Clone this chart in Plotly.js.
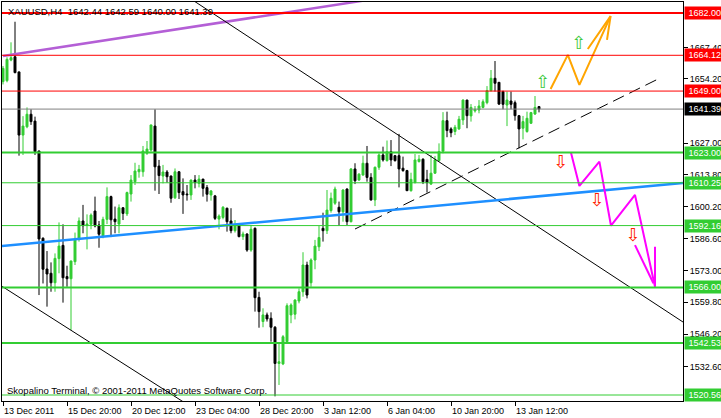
<!DOCTYPE html>
<html><head><meta charset="utf-8">
<script src="https://cdn.plot.ly/plotly-3.0.1.min.js"></script>
<style>html,body{margin:0;padding:0;background:#fff;}#chart{width:721px;height:418px;}</style>
</head><body><div id="chart"></div>
<script>
// XAUUSD H4 bars (bar 0 = 13 Dec 2011 00:00)
const barOpen = [1653.0,1653.4,1662.1,1663.5,1657.1,1630.4,1633.9,1639.2,1636.3,1623.7,
1586.8,1573.8,1572.0,1568.0,1578.2,1583.8,1570.6,1569.7,1576.9,1586.5,
1594.1,1592.3,1592.7,1598.3,1592.4,1587.8,1594.8,1604.4,1594.9,1592.8,
1599.7,1597.1,1605.5,1610.7,1614.9,1614.9,1622.7,1624.1,1634.2,1617.3,
1613.1,1614.8,1613.1,1603.9,1614.9,1606.5,1605.5,1605.1,1611.4,1610.0,
1611.8,1608.2,1605.1,1604.7,1594.9,1595.6,1599.5,1594.1,1590.0,1592.4,
1587.5,1588.6,1581.8,1591.0,1561.8,1551.6,1554.4,1553.0,1549.2,1533.9,
1533.7,1543.1,1554.4,1554.7,1560.3,1564.2,1575.5,1568.0,1577.6,1583.2,
1591.0,1590.0,1598.5,1601.6,1599.9,1598.0,1607.6,1593.8,1616.1,1611.4,
1613.5,1618.5,1612.5,1603.0,1616.8,1622.0,1619.6,1623.4,1621.7,1621.7,
1616.4,1615.4,1606.9,1610.3,1619.2,1620.2,1611.7,1609.7,1614.3,1619.6,
1623.6,1636.5,1633.0,1631.9,1633.0,1636.8,1645.2,1638.5,1640.6,1641.0,
1642.1,1644.1,1649.2,1654.4,1652.7,1648.8,1643.1,1644.8,1644.1,1638.6,
1633.3,1631.9,1635.4,1639.3,1642.44];
const barHigh = [1659.6,1663.3,1669.6,1678.3,1657.2,1638.4,1642.1,1641.3,1638.2,1623.7,
1587.2,1581.4,1576.6,1580.4,1593.5,1592.7,1575.2,1577.3,1589.2,1595.6,
1600.9,1596.9,1597.3,1604.4,1594.1,1595.9,1608.3,1604.8,1600.2,1601.1,
1599.9,1606.5,1613.5,1618.7,1617.8,1625.8,1627.9,1634.7,1641.3,1619.9,
1617.8,1615.6,1613.3,1616.3,1615.2,1612.1,1609.3,1611.6,1613.5,1613.5,
1611.9,1609.3,1607.2,1605.1,1596.9,1600.4,1599.7,1599.5,1594.5,1592.7,
1589.6,1588.9,1592.4,1591.4,1564.2,1557.2,1555.4,1555.5,1549.7,1542.4,
1545.9,1559.3,1559.3,1561.0,1565.6,1580.9,1576.9,1578.3,1586.1,1592.0,
1597.6,1607.2,1606.1,1608.6,1602.3,1607.5,1607.9,1616.4,1618.5,1614.3,
1621.7,1625.8,1614.3,1617.1,1622.7,1625.5,1628.1,1628.3,1622.0,1630.9,
1621.3,1615.7,1614.5,1622.4,1622.0,1620.6,1615.7,1622.0,1621.6,1626.9,
1640.1,1640.3,1633.7,1634.7,1638.5,1645.5,1645.3,1643.5,1642.7,1645.2,
1645.5,1651.1,1657.9,1661.7,1652.8,1649.2,1648.8,1648.8,1645.0,1638.9,
1638.5,1640.3,1640.2,1646.9,1642.59];
const barLow = [1651.8,1652.7,1661.6,1656.5,1621.7,1622.0,1633.3,1634.7,1622.0,1562.8,
1567.7,1557.9,1564.2,1564.2,1572.0,1559.6,1566.3,1548.0,1575.5,1585.4,
1588.9,1582.1,1590.6,1591.4,1582.8,1586.8,1592.8,1587.3,1588.9,1588.9,
1594.5,1596.2,1602.3,1609.3,1612.4,1612.8,1622.0,1623.4,1606.9,1605.5,
1610.0,1610.3,1601.8,1603.4,1603.4,1597.1,1602.7,1603.0,1607.9,1608.3,
1604.4,1602.3,1602.7,1594.5,1590.6,1594.8,1589.6,1588.9,1589.2,1587.2,
1586.1,1581.1,1581.1,1555.8,1549.0,1549.2,1551.6,1543.1,1520.0,1524.8,
1533.2,1542.4,1550.9,1552.5,1559.3,1562.1,1561.4,1566.3,1573.7,1581.4,
1585.4,1588.6,1597.6,1600.9,1592.1,1593.8,1592.4,1593.5,1609.7,1611.1,
1613.3,1610.7,1602.7,1600.4,1615.7,1619.2,1619.2,1617.3,1619.2,1608.3,
1614.9,1606.9,1606.5,1610.0,1618.8,1609.7,1606.1,1609.3,1614.0,1619.2,
1622.7,1629.5,1629.5,1630.4,1632.6,1634.7,1633.3,1636.1,1639.9,1639.6,
1641.7,1643.4,1648.8,1648.8,1643.1,1641.3,1634.2,1641.3,1636.5,1624.8,
1628.6,1631.4,1635.1,1638.9,1640.00];
const barClose = [1658.6,1662.4,1663.1,1656.8,1630.4,1634.2,1639.2,1636.1,1623.4,1586.5,
1573.7,1571.7,1568.0,1578.3,1583.5,1570.1,1569.7,1577.2,1586.5,1594.1,
1592.1,1592.8,1596.6,1592.0,1588.5,1594.8,1604.4,1594.6,1593.8,1599.7,
1597.3,1606.1,1611.4,1615.2,1615.9,1623.7,1624.5,1634.7,1617.0,1613.3,
1614.8,1612.8,1603.7,1614.9,1606.1,1605.1,1605.2,1611.4,1610.3,1611.8,
1607.9,1605.4,1606.8,1595.2,1596.2,1599.9,1593.8,1590.0,1592.0,1587.5,
1588.6,1581.8,1590.6,1561.7,1555.8,1554.4,1552.7,1549.2,1533.9,1534.6,
1545.2,1558.3,1558.6,1560.7,1564.2,1575.5,1562.8,1577.6,1583.5,1587.1,
1590.0,1598.7,1603.7,1607.6,1598.0,1607.2,1593.8,1616.1,1611.1,1613.9,
1618.5,1612.5,1603.0,1616.8,1622.0,1619.9,1623.4,1619.9,1619.6,1616.1,
1615.4,1606.9,1611.7,1619.9,1620.2,1610.7,1610.3,1614.3,1619.9,1623.4,
1636.5,1632.3,1631.4,1633.7,1637.1,1645.2,1638.6,1642.1,1641.3,1642.7,
1644.5,1649.2,1654.4,1652.3,1643.5,1643.4,1645.2,1643.4,1638.6,1633.0,
1636.1,1637.5,1639.9,1642.1,1641.39];

const xTickBars = [0,16,32,48,64,80,96,112,128];
const xTickLabels = ["13 Dec 2011","15 Dec 20:00","20 Dec 12:00","23 Dec 04:00","28 Dec 20:00","3 Jan 12:00","6 Jan 04:00","10 Jan 20:00","13 Jan 12:00"];
const yTickValues = [1667.40,1654.20,1627.00,1613.80,1600.20,1586.60,1573.00,1559.80,1546.20,1532.60];

const resistanceLevels = [1682.00,1664.12,1649.00];
const supportLevels = [1623.00,1610.25,1592.16,1566.00,1542.53,1520.56];
const lastPrice = 1641.39;
const headerText = "XAUUSD,H4\u00a0\u00a01642.44 1642.59 1640.00 1641.39";
const footerText = "Skopalino Terminal, \u00a9 2001-2011 MetaQuotes Software Corp.";

// trend lines: bar index / price
const purpleX = [0, 90], purpleY = [1663.8, 1687.2];
const channelTopX = [47, 170], channelTopY = [1687.9, 1551.4];
const channelBotX = [-0.25, 47], channelBotY = [1566.5, 1515.6];
const dashedX = [88, 164.25], dashedY = [1590.7, 1654.5];
const blueX = [-0.25, 170], blueY = [1583.5, 1610.2];
// forecast paths
const bullPathX = [136.9, 141.2, 144.1, 151.9], bullPathY = [1649.9, 1664.3, 1651.6, 1680.7];
const bullHeadX = [146.2, 151.9, 151.0], bullHeadY = [1666.8, 1680.7, 1670.6];
const bearPathX = [142.0, 144.1, 149.1, 152.0, 158.0, 163.0], bearPathY = [1622.9, 1608.9, 1619.2, 1592.1, 1605.1, 1566.3];
const bearHeadX = [158.0, 162.6, null, 163.0, 163.0], bearHeadY = [1583.9, 1567.8, null, 1566.3, 1583.2];
const upArrowX = [135, 144], upArrowY = [1652.4, 1668.5];
const downArrowX = [139.5, 148.6, 157.6], downArrowY = [1618.2, 1602.3, 1587.5];

const barIndex = barOpen.map((_, i) => i);
const GREEN = '#32cd32';
const FONT = 'Liberation Sans, Arial, sans-serif';

function line(x, y, color, width, dash) {
  return {type:'scatter', mode:'lines', x:x, y:y, hoverinfo:'skip', connectgaps:false,
    line:{color:color, width:width, dash:dash || 'solid'}};
}

const traces = [
  {type:'candlestick', x:barIndex, open:barOpen, high:barHigh, low:barLow, close:barClose,
   increasing:{line:{color:GREEN, width:1}, fillcolor:GREEN},
   decreasing:{line:{color:'#000', width:1}, fillcolor:'#000'},
   whiskerwidth:0, hoverinfo:'skip'},
  line(purpleX, purpleY, '#b45fd6', 2.5),
  line(channelTopX, channelTopY, '#000', 1),
  line(channelBotX, channelBotY, '#000', 1),
  line(dashedX, dashedY, '#000', 1, '12px,6px'),
  line(blueX, blueY, '#1e8fff', 2.5),
  line(bullPathX, bullPathY, '#ffa500', 2),
  line(bullHeadX, bullHeadY, '#ffa500', 2),
  line(bearPathX, bearPathY, '#ff00ff', 2),
  line(bearHeadX, bearHeadY, '#ff00ff', 2),
  {type:'scatter', mode:'text', x:upArrowX, y:upArrowY, text:upArrowX.map(()=>'\u21e7'),
   textfont:{family:'DejaVu Sans', size:18, color:'#3cc83c'}, hoverinfo:'skip'},
  {type:'scatter', mode:'text', x:downArrowX, y:downArrowY, text:downArrowX.map(()=>'\u21e9'),
   textfont:{family:'DejaVu Sans', size:18, color:'#ff2000'}, hoverinfo:'skip'}
];

const shapes = [];
const annotations = [];
function level(v, color, width) {
  shapes.push({type:'line', xref:'x domain', x0:0, x1:1, yref:'y', y0:v, y1:v,
    line:{color:color, width:width}, layer:'above'});
  annotations.push({xref:'paper', x:1, xanchor:'left', xshift:1, yref:'y', y:v, yanchor:'middle',
    text:'\u00a0' + v.toFixed(2) + '\u00a0', showarrow:false, bgcolor:color, borderpad:1,
    font:{color:'#fff', size:9, family:FONT}});
}
const resWidths = [2,1,1];
resistanceLevels.forEach((v,i) => level(v, '#ff0000', resWidths[i]));
const supWidths = [2,1,1,2,2,1];
supportLevels.forEach((v,i) => level(v, GREEN, supWidths[i]));
shapes.push({type:'line', xref:'x domain', x0:0, x1:1, yref:'y', y0:lastPrice, y1:lastPrice,
  line:{color:'#808080', width:1}, layer:'above'});
annotations.push({xref:'paper', x:1, xanchor:'left', xshift:1, yref:'y', y:lastPrice, yanchor:'middle',
  text:'\u00a0' + lastPrice.toFixed(2) + '\u00a0', showarrow:false, bgcolor:'#000', borderpad:1,
  font:{color:'#fff', size:9, family:FONT}});

xTickBars.forEach((b,i) => annotations.push({xref:'x', x:b, xanchor:'left', xshift:-1, yref:'paper', y:0,
  yanchor:'top', yshift:-3, text:xTickLabels[i], showarrow:false,
  font:{size:9, color:'#000', family:FONT}}));

annotations.push({xref:'paper', x:0, xanchor:'left', xshift:4, yref:'paper', y:1, yanchor:'top', yshift:-2,
  text:headerText, showarrow:false, font:{size:9.5, color:'#000', family:FONT}});
annotations.push({xref:'paper', x:0, xanchor:'left', xshift:3, yref:'paper', y:0, yanchor:'bottom', yshift:3,
  text:footerText, showarrow:false, font:{size:9.5, color:'#000', family:FONT}});

const layout = {
  width:721, height:418, margin:{l:2, r:38, t:2, b:17, pad:0},
  paper_bgcolor:'#fff', plot_bgcolor:'#fff', showlegend:false,
  font:{family:FONT, size:9, color:'#000'},
  xaxis:{range:[-0.25,170], showgrid:false, zeroline:false, tickvals:xTickBars, showticklabels:false,
    ticks:'outside', ticklen:4, tickcolor:'#000', showline:true, mirror:true, linecolor:'#000', linewidth:1,
    rangeslider:{visible:false}, fixedrange:true},
  yaxis:{range:[1518.03,1686.64], side:'right', tickvals:yTickValues, ticktext:yTickValues.map(v=>v.toFixed(2)),
    ticks:'outside', ticklen:4, tickcolor:'#000', showgrid:false, zeroline:false, showline:true, mirror:true,
    linecolor:'#000', linewidth:1, tickfont:{size:9, color:'#000'}, fixedrange:true},
  shapes:shapes, annotations:annotations, hovermode:false
};

Plotly.newPlot('chart', traces, layout, {displayModeBar:false, staticPlot:true});
</script>
</body></html>
